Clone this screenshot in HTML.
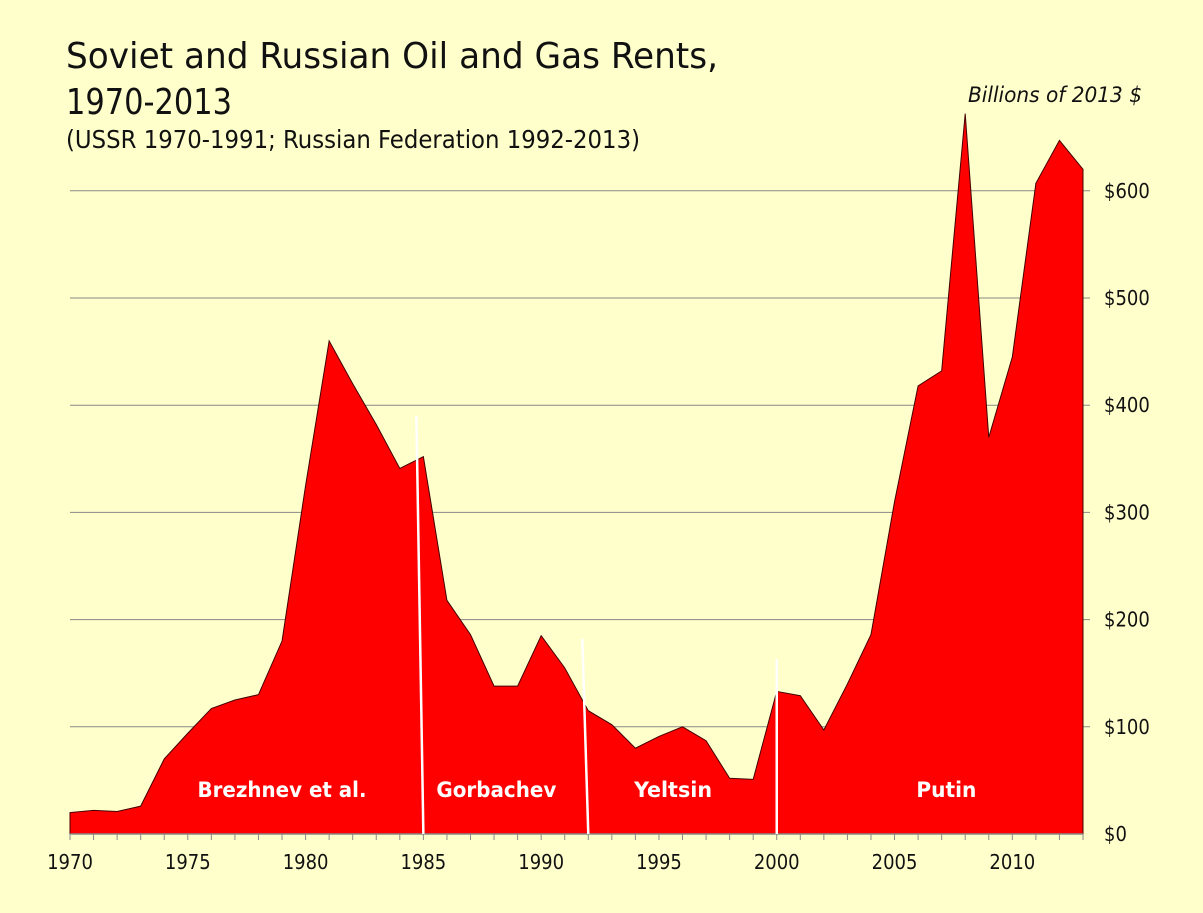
<!DOCTYPE html>
<html><head><meta charset="utf-8"><style>
html,body{margin:0;padding:0;background:#FFFFCC;}
svg{display:block;font-family:"DejaVu Sans Condensed","Liberation Sans",sans-serif;}
</style></head><body>
<svg id="chart" width="1203" height="913" viewBox="0 0 1203 913">
<rect width="1203" height="913" fill="#FFFFCC"/>
<text x="66" y="68" font-size="36" fill="#111" textLength="652" lengthAdjust="spacingAndGlyphs">Soviet and Russian Oil and Gas Rents,</text>
<text x="66" y="114" font-size="36" fill="#111" textLength="166" lengthAdjust="spacingAndGlyphs">1970-2013</text>
<text x="66" y="148" font-size="25" fill="#111" textLength="574" lengthAdjust="spacingAndGlyphs">(USSR 1970-1991; Russian Federation 1992-2013)</text>
<text x="968" y="102" font-size="21" font-style="italic" fill="#111" textLength="174" lengthAdjust="spacingAndGlyphs">Billions of 2013 $</text>
<g id="grid"></g>
<g id="area"></g>
<g id="xaxis"></g>
<g id="yaxis"></g>
<g id="eras"></g>
</svg>
<script>
const years = [1970,1971,1972,1973,1974,1975,1976,1977,1978,1979,1980,1981,1982,1983,1984,1985,1986,1987,1988,1989,1990,1991,1992,1993,1994,1995,1996,1997,1998,1999,2000,2001,2002,2003,2004,2005,2006,2007,2008,2009,2010,2011,2012,2013];
const rents = [20,22,21,26,70,94,117,125,130,180,325,460,420,382,341,352,218,186,138,138,185,155,115,102,80,91,100,87,52,51,133,129,97,140,186,310,418,432,672,370,445,607,647,620];
const yTicks = [0,100,200,300,400,500,600];
const xTickLabels = [1970,1975,1980,1985,1990,1995,2000,2005,2010];
const eraNames = ["Brezhnev et al.","Gorbachev","Yeltsin","Putin"];
const eraLabelYears = [1979,1988.1,1995.6,2007.2];
const eraLabelWidths = [169,120,78,60];
const eraDividers = [1985,1992,2000];
const eraDividerTopValues = [390,182,163];

const NS="http://www.w3.org/2000/svg";
const X0=70,X1=1083,Y0=834,PX100=107.2;
const x=yr=>X0+(yr-1970)*(X1-X0)/43;
const y=v=>Y0-v*PX100/100;
function mk(tag,attrs,parent){const e=document.createElementNS(NS,tag);for(const k in attrs)e.setAttribute(k,attrs[k]);parent.appendChild(e);return e;}
const grid=document.getElementById('grid'),area=document.getElementById('area'),xa=document.getElementById('xaxis'),ya=document.getElementById('yaxis'),eras=document.getElementById('eras');

yTicks.forEach(t=>{
  if(t>0){const l=mk('line',{x1:X0,x2:1090,y1:y(t),y2:y(t),stroke:'#888',"stroke-width":1},grid);
  
  }
  const tx=mk('text',{x:1104,y:y(t)+7,"font-size":20,fill:'#111'},ya);
  tx.textContent='$'+t;
  
  
});

let d='M'+x(years[0])+','+Y0;
years.forEach((yr,i)=>{d+=' L'+x(yr)+','+y(rents[i]);});
d+=' L'+x(years[years.length-1])+','+Y0+' Z';
const p=mk('path',{d:d,fill:'#FF0000',stroke:'#400',"stroke-width":1},area);



const ax=mk('line',{x1:X0,x2:X1,y1:Y0,y2:Y0,stroke:'#888',"stroke-width":1.5},xa);


years.forEach(yr=>{
  const tk=mk('line',{x1:x(yr),x2:x(yr),y1:Y0,y2:Y0+6,stroke:'#888',"stroke-width":1},xa);
  
  
});
xTickLabels.forEach(yr=>{
  const t=mk('text',{x:x(yr),y:869,"font-size":20,fill:'#111',"text-anchor":"middle"},xa);
  t.textContent=yr;
  
  
});

const slants=[-7,-6,0];
eraDividers.forEach((yr,i)=>{
  const l=mk('line',{x1:x(yr)+slants[i],y1:y(eraDividerTopValues[i]),x2:x(yr),y2:Y0,stroke:'#fff',"stroke-width":2.5},eras);
  
  
});
eraNames.forEach((n,i)=>{
  const t=mk('text',{x:x(eraLabelYears[i]),y:797,"font-size":21,"font-weight":"bold",fill:'#fff',"text-anchor":"middle",textLength:eraLabelWidths[i],lengthAdjust:"spacingAndGlyphs"},eras);
  t.textContent=n;
  
  
});
</script>
</body></html>
